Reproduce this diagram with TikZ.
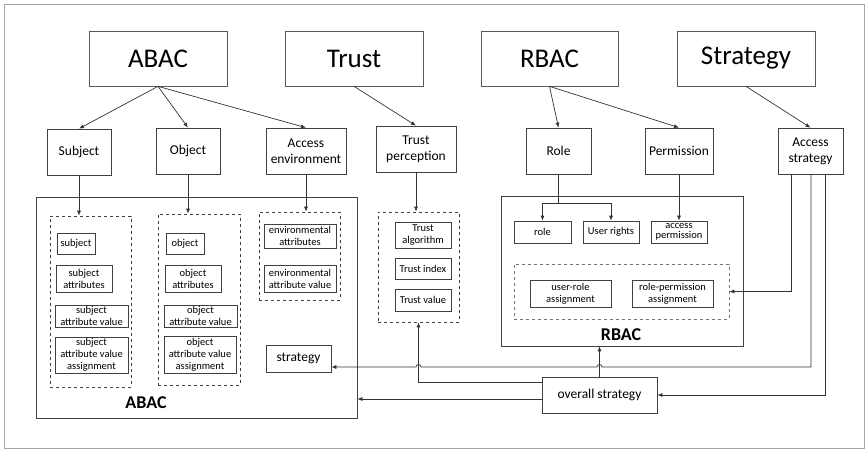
\documentclass[tikz,border=0pt]{standalone}
\usepackage{fontspec}
\setmainfont{Carlito}
\usetikzlibrary{arrows.meta}

\begin{document}
\begin{tikzpicture}[x=1pt, y=-1pt,
    line width=0.7pt,
    arr/.style={-{Latex[length=5pt,width=4pt]}, black!80},
    topbox/.style={draw=black!65, inner sep=0pt, minimum width=138pt, minimum height=55pt, font=\fontsize{27}{30}\selectfont},
    midbox/.style={draw=black!75, inner sep=0pt, minimum height=46pt, align=center, font=\fontsize{13.5}{16}\selectfont},
    item/.style={draw=black!75, inner sep=0pt, align=center, font=\fontsize{10.5}{12}\selectfont},
    grp/.style={draw=black!75, dashed, inner sep=0pt},
    panel/.style={draw=black!75, inner sep=0pt},
    tag/.style={font=\bfseries\fontsize{18}{20}\selectfont}]
    \useasboundingbox (0,0) rectangle (868,450);
    \draw[black!35] (4,4) rectangle (864,448);

    % top concepts
    \node[topbox] (abac) at (158,58.5) {ABAC};
    \node[topbox] (trust) at (354,58.5) {Trust};
    \node[topbox, minimum width=137pt] (rbac) at (549.5,58.5) {RBAC};
    \node[topbox] (strat) at (746,58.5) {Strategy};

    % second row
    \node[midbox, minimum width=64pt] (subj) at (79,152) {Subject};
    \node[midbox, minimum width=64pt] (obj) at (188,151) {Object};
    \node[midbox, minimum width=80pt] (env) at (306,151) {Access\\environment};
    \node[midbox, minimum width=80pt] (perc) at (416,149) {Trust\\perception};
    \node[midbox, minimum width=65pt] (role) at (558.5,151) {Role};
    \node[midbox, minimum width=68pt] (perm) at (679,151) {Permission};
    \node[midbox, minimum width=65pt] (acc) at (810.5,151) {Access\\strategy};

    \draw[arr] (abac.south) -- (subj.north);
    \draw[arr] (abac.south) -- (obj.north);
    \draw[arr] (abac.south) -- (env.north);
    \draw[arr] (trust.south) -- (perc.north);
    \draw[arr] (rbac.south) -- (role.north);
    \draw[arr] (rbac.south) -- (perm.north);
    \draw[arr] (strat.south) -- (acc.north);

    % ABAC panel
    \node[panel, minimum width=321pt, minimum height=221pt] (abacbox) at (196.5,307.5) {};
    \node[grp, minimum width=81pt, minimum height=171pt] (sgrp) at (90.5,301.5) {};
    \node[item, minimum width=38pt, minimum height=21pt] (s1) at (76,243.5) {subject};
    \node[item, minimum width=56pt, minimum height=27pt] (s2) at (84,278.5) {subject\\attributes};
    \node[item, minimum width=73pt, minimum height=22pt] (s3) at (91.5,316) {subject\\attribute value};
    \node[item, minimum width=73pt, minimum height=36pt] (s4) at (91.5,355) {subject\\attribute value\\assignment};

    \node[grp, minimum width=82pt, minimum height=171pt] (ogrp) at (199,299.5) {};
    \node[item, minimum width=38pt, minimum height=21pt] (o1) at (185,243.5) {object};
    \node[item, minimum width=56pt, minimum height=27pt] (o2) at (193,278.5) {object\\attributes};
    \node[item, minimum width=73pt, minimum height=22pt] (o3) at (200.5,316) {object\\attribute value};
    \node[item, minimum width=72pt, minimum height=37pt] (o4) at (200,354.5) {object\\attribute value\\assignment};

    \node[grp, minimum width=81pt, minimum height=88pt] (egrp) at (299.5,256) {};
    \node[item, minimum width=72pt, minimum height=24pt] (e1) at (300,236) {environmental\\attributes};
    \node[item, minimum width=72pt, minimum height=27pt] (e2) at (300,278.5) {environmental\\attribute value};

    \node[item, minimum width=65pt, minimum height=27pt, font=\fontsize{13.5}{16}\selectfont] (stg) at (298.5,358.5) {strategy};
    \node[tag] at (146,403) {ABAC};

    \draw[arr] (subj.south) -- (subj.south |- sgrp.north);
    \draw[arr] (obj.south) -- (obj.south |- ogrp.north);
    \draw[arr] (env.south) -- (env.south |- egrp.north);

    % trust group
    \node[grp, minimum width=81pt, minimum height=110pt] (tgrp) at (418.5,267) {};
    \node[item, minimum width=56pt, minimum height=26pt] (t1) at (423,235) {Trust\\algorithm};
    \node[item, minimum width=56pt, minimum height=21pt] (t2) at (423,268.5) {Trust index};
    \node[item, minimum width=56pt, minimum height=22pt] (t3) at (423,300) {Trust value};
    \draw[arr] (perc.south) -- (perc.south |- tgrp.north);

    % RBAC panel
    \node[panel, minimum width=242pt, minimum height=150pt] (rbacbox) at (622,271) {};
    \node[item, minimum width=57pt, minimum height=22pt] (rl) at (542.5,232) {role};
    \node[item, minimum width=56pt, minimum height=22pt] (rights) at (611,232) {User rights};
    \node[item, minimum width=56pt, minimum height=22pt, font=\fontsize{10.5}{10.5}\selectfont] (accp) at (679,232) {access\\permission};
    \node[grp, draw=black!55, minimum width=215pt, minimum height=55pt] (rgrp) at (621.5,291.5) {};
    \node[item, minimum width=81pt, minimum height=27pt] (ur) at (570.5,293.5) {user-role\\assignment};
    \node[item, minimum width=81pt, minimum height=27pt] (rp) at (672.5,293.5) {role-permission\\assignment};
    \node[tag] at (621,335) {RBAC};

    \draw[black!80] (role.south) -- ++(0,29) coordinate (rj);
    \draw[arr] (rj) -| (rl.north);
    \draw[arr] (rj) -| (rights.north);
    \draw[arr] (perm.south) -- (accp.north);

    % overall strategy and feedback lines
    \node[item, minimum width=115pt, minimum height=36pt, font=\fontsize{13.5}{16}\selectfont] (ovr) at (599.5,395) {overall strategy};
    \draw[arr] (ovr.north) -- (ovr.north |- rbacbox.south);
    \draw[arr] ([yshift=13pt]ovr.west) -| (tgrp.south);
    \coordinate (o2) at ([yshift=-4pt]ovr.west);
    \draw[arr] (o2) -- (o2 -| abacbox.east);

    \draw[arr] ([xshift=-19.5pt]acc.south) |- (rgrp.east);
    \draw[arr] ([xshift=0.5pt]acc.south) |- (602,367)
        arc[start angle=0, end angle=180, radius=2.5pt] -- (421,367)
        arc[start angle=0, end angle=180, radius=2.5pt] -- ([yshift=-8.5pt]stg.east);
    \draw[arr] ([xshift=14.5pt]acc.south) |- (ovr.east);
\end{tikzpicture}
\end{document}
